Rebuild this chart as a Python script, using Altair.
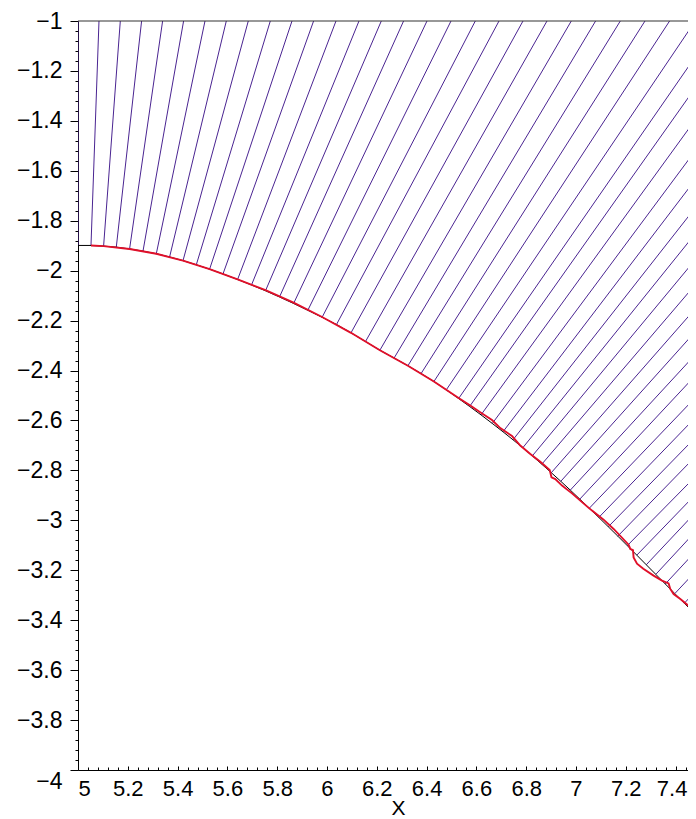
import altair as alt
import pandas as pd

XEDGE = 7.4831      # x where the reference's right edge lies (end points of segments)
XVIS = 7.4498       # visible x limit of the plot area

# feet of the normal segments (on the black curve)
foot_x = [5.0000, 5.0522, 5.1028, 5.1538, 5.2072, 5.2610, 5.3145, 5.3679, 5.4217, 5.4751,
          5.5285, 5.5823, 5.6410, 5.6968, 5.7530, 5.8092, 5.8659, 5.9229, 5.9803, 6.0382,
          6.0964, 6.1546, 6.2124, 6.2695, 6.3249, 6.3779, 6.4293, 6.4791, 6.5285, 6.5727,
          6.6185, 6.6639, 6.7068, 6.7470, 6.7863, 6.8245, 6.8627, 6.9008, 6.9390, 6.9771,
          7.0153, 7.0534, 7.0916, 7.1297, 7.1679, 7.2060, 7.2442, 7.2823, 7.3205, 7.3586,
          7.3968, 7.4349, 7.4731]
foot_y = [-1.8990, -1.8990, -1.9018, -1.9058, -1.9130, -1.9218, -1.9323, -1.9451, -1.9599, -1.9764,
          -1.9940, -2.0132, -2.0353, -2.0573, -2.0806, -2.1054, -2.1315, -2.1587, -2.1868, -2.2156,
          -2.2489, -2.2838, -2.3186, -2.3499, -2.3808, -2.4120, -2.4441, -2.4774, -2.5122, -2.5439,
          -2.5776, -2.6120, -2.6453, -2.6774, -2.7094, -2.7419, -2.7752, -2.8092, -2.8437, -2.8790,
          -2.9150, -2.9515, -2.9884, -3.0257, -3.0633, -3.1014, -3.1395, -3.1780, -3.2164, -3.2549,
          -3.2934, -3.3319, -3.3703]

# segments that reach the top edge (y = -1): x where they meet it
top_x = [5.0000, 5.0843, 5.1699, 5.2554, 5.3398, 5.4241, 5.5100, 5.5956, 5.6839, 5.7723,
         5.8594, 5.9462, 6.0361, 6.1285, 6.2181, 6.3076, 6.4016, 6.4980, 6.5956, 6.6908,
         6.7871, 6.8835, 6.9811, 7.0787, 7.1779, 7.2771, 7.3759, 7.4791]
# segments that leave through the right edge: y where they meet it
exit_y = [-1.1375, -1.2617, -1.3900, -1.5142, -1.6305, -1.7427, -1.8469, -1.9511, -2.0513, -2.1475,
          -2.2397, -2.3319, -2.4160, -2.5042, -2.5844, -2.6645, -2.7407, -2.8208, -2.8930, -2.9651,
          -3.0413, -3.1214, -3.2016, -3.2818, -3.3579]

# black curve end point at the right edge
curve_end_y = -3.3804

# red curve
red_x = [5.0522, 5.1028, 5.2072, 5.3145, 5.4217, 5.5285, 5.6410, 5.7530, 5.8659, 5.9803,
         6.0964, 6.2124, 6.3249, 6.4293, 6.5285, 6.5755, 6.6197, 6.6627, 6.6960, 6.7430,
         6.7763, 6.8165, 6.8566, 6.8944, 6.9016, 6.9169, 6.9438, 6.9851, 7.0173, 7.0643,
         7.1108, 7.1510, 7.2112, 7.2181, 7.2289, 7.2313, 7.2450, 7.2703, 7.3116, 7.3454,
         7.3719, 7.3787, 7.3920, 7.4189, 7.4470, 7.4831]
red_y = [-1.8990, -1.9018, -1.9130, -1.9323, -1.9599, -1.9940, -2.0353, -2.0778, -2.1283, -2.1856,
         -2.2489, -2.3186, -2.3808, -2.4441, -2.5102, -2.5403, -2.5703, -2.5984, -2.6305, -2.6625,
         -2.7006, -2.7339, -2.7655, -2.7988, -2.8277, -2.8349, -2.8609, -2.8930, -2.9210, -2.9611,
         -2.9972, -3.0345, -3.0974, -3.1146, -3.1194, -3.1483, -3.1735, -3.1936, -3.2216, -3.2417,
         -3.2525, -3.2749, -3.2950, -3.3150, -3.3379, -3.3752]

x_ticks = [round(5 + 0.04 * k, 2) for k in range(62)]
y_ticks = [round(-4 + 0.04 * k, 2) for k in range(76)]

W, H = 610, 749
FONT = "Liberation Sans"
FS = 22
PURPLE = "#4a2491"
RED = "#e0102a"

# ---- build tables ----
end_x = top_x + [XEDGE] * len(exit_y)
end_y = [-1.0] * len(top_x) + exit_y
rows = []
for i in range(len(foot_x)):
    rows.append({"id": i, "o": 0, "x": foot_x[i], "y": foot_y[i]})
    rows.append({"id": i, "o": 1, "x": end_x[i], "y": end_y[i]})
seg_df = pd.DataFrame(rows)

curve_df = pd.DataFrame({"x": foot_x + [XEDGE], "y": foot_y + [curve_end_y], "o": list(range(len(foot_x) + 1))})
red_df = pd.DataFrame({"x": red_x, "y": red_y, "o": list(range(len(red_x)))})

xs = alt.Scale(domain=[5, XVIS], nice=False, zero=False)
ys = alt.Scale(domain=[-4, -1], nice=False, zero=False)

major_test = "abs(datum.value*5 - round(datum.value*5)) < 0.000001"

x_axis_bottom = alt.Axis(
    title="X", values=x_ticks, ticks=False, grid=False,
    domain=True, domainColor="black", domainWidth=1,
    labelExpr=f"({major_test}) ? format(datum.value, '~g') : ''",
    labelFont=FONT, labelFontSize=FS, labelColor="black", labelPadding=8,
    labelOverlap=False, labelFlush=False,
    labelAlign={"condition": {"test": "datum.value < 5.001", "value": "left"}, "value": "center"},
    labelOffset={"condition": {"test": "datum.value > 7.39", "value": -4}, "value": 0},
    titleFont=FONT, titleFontSize=21, titleFontWeight="normal", titleColor="black",
    titleBaseline="alphabetic", titleY=44.5, titleX=320, titleAlign="center",
)
x_axis_ticks = alt.Axis(
    orient="top", offset=-H, values=x_ticks, labels=False, domain=False, grid=False,
    ticks=True, tickColor="black", tickWidth=1,
    tickSize={"condition": {"test": major_test, "value": 4}, "value": 3},
    title=None,
)
y_axis = alt.Axis(
    title=None, values=y_ticks, grid=False,
    domain=True, domainColor="black", domainWidth=1,
    ticks=True, tickColor="black", tickWidth=1,
    tickSize={"condition": {"test": major_test, "value": 8}, "value": 3},
    labelExpr=f"({major_test}) ? format(datum.value, '~g') : ''",
    labelFont=FONT, labelFontSize=23, labelColor="black", labelPadding=8,
    labelOverlap=False, labelFlush=False,
    labelBaseline={"condition": {"test": "datum.value < -3.999", "value": "top"}, "value": "middle"},
)

segs = alt.Chart(seg_df).mark_line(color=PURPLE, strokeWidth=1, clip=True).encode(
    x=alt.X("x:Q", scale=xs, axis=x_axis_bottom),
    y=alt.Y("y:Q", scale=ys, axis=y_axis),
    detail="id:N",
    order="o:Q",
)
black = alt.Chart(curve_df).mark_line(color="black", strokeWidth=1, clip=True).encode(
    x=alt.X("x:Q", scale=xs, axis=x_axis_ticks),
    y=alt.Y("y:Q", scale=ys, axis=None),
    order="o:Q",
)
red = alt.Chart(red_df).mark_line(color=RED, strokeWidth=1.9, clip=True).encode(
    x=alt.X("x:Q", scale=xs, axis=None),
    y=alt.Y("y:Q", scale=ys, axis=None),
    order="o:Q",
)
top_rule = alt.Chart(pd.DataFrame({"y": [-1.0]})).mark_rule(color="#333333", strokeWidth=1.2).encode(
    y=alt.Y("y:Q", scale=ys, axis=None),
)

chart = alt.layer(segs, top_rule, black, red).resolve_axis(x="independent", y="independent").properties(
    width=W, height=H,
    autosize=alt.AutoSizeParams(type="none"),
    padding={"left": 70, "top": 13, "right": 0, "bottom": 49},
).configure_view(stroke=None)

chart.save("out.html", embed_options={"renderer": "svg", "actions": False})
